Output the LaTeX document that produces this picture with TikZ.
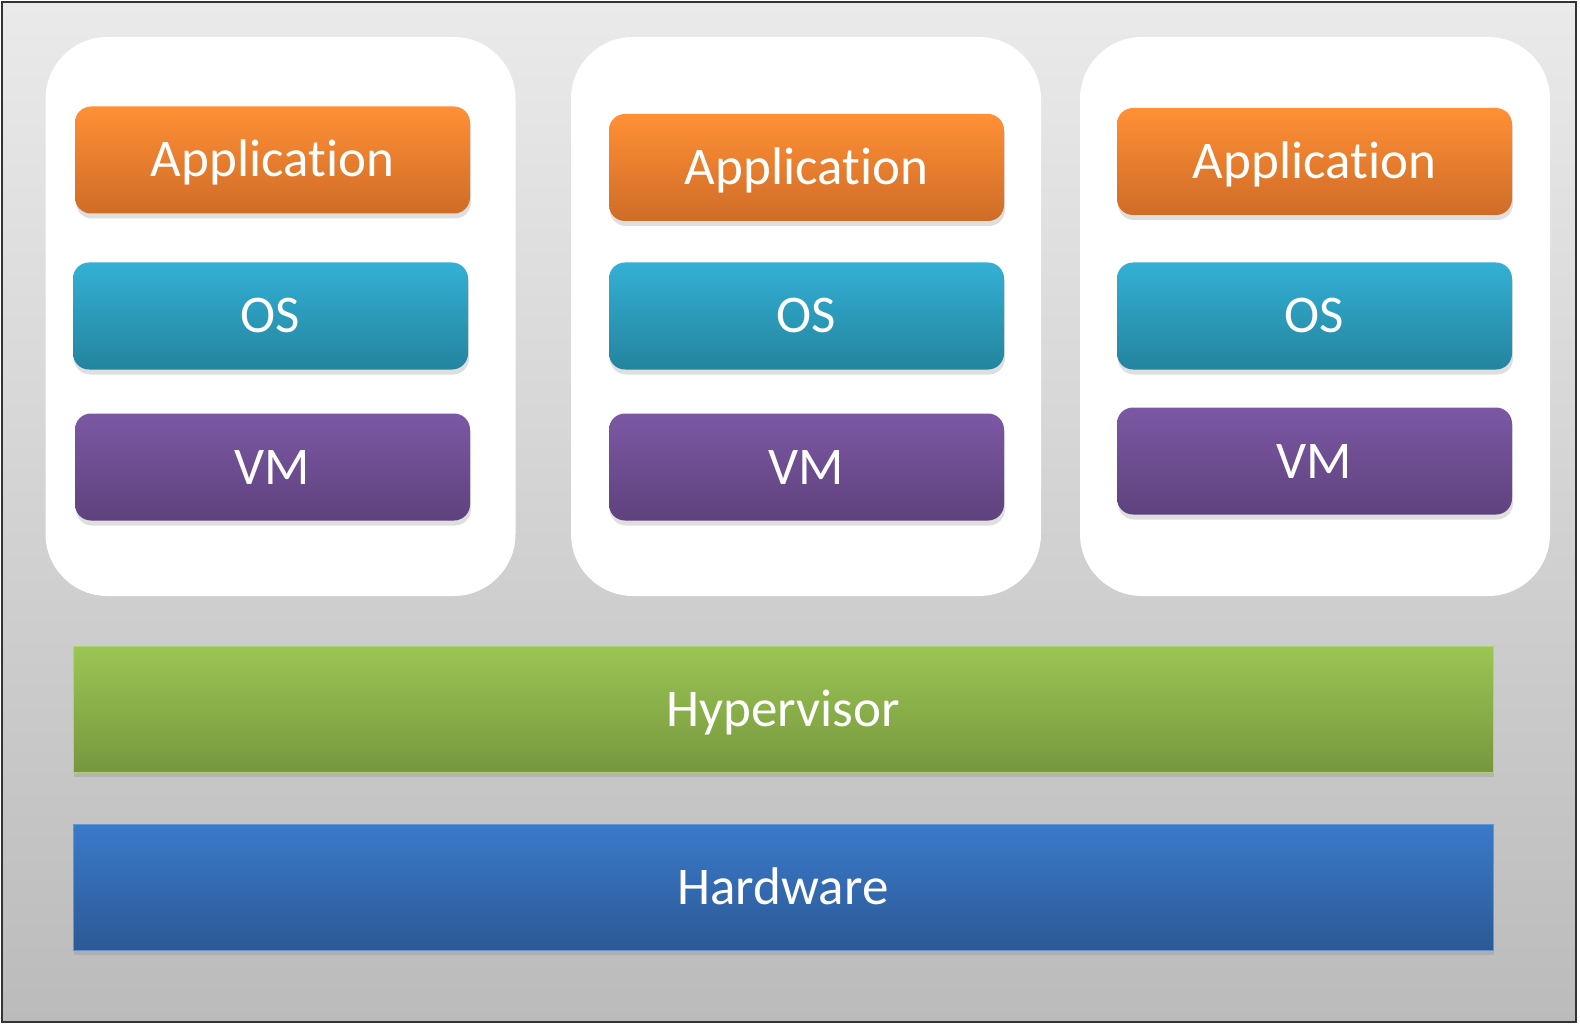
\documentclass[tikz,border=0pt]{standalone}
\usepackage{fontspec}
\setmainfont[Ligatures=NoCommon]{Carlito}
\usepackage{tikz}
\usetikzlibrary{positioning, shadows}

\definecolor{bgtop}{HTML}{EAEAEA}
\definecolor{bgbot}{HTML}{BBBBBB}
\definecolor{apptop}{HTML}{FF9035}
\definecolor{appbot}{HTML}{CF6C27}
\definecolor{ostop}{HTML}{33B0D5}
\definecolor{osbot}{HTML}{24849E}
\definecolor{vmtop}{HTML}{7C58A4}
\definecolor{vmbot}{HTML}{5E427D}
\definecolor{hvtop}{HTML}{9BC653}
\definecolor{hvbot}{HTML}{76973E}
\definecolor{hwtop}{HTML}{3A7ACB}
\definecolor{hwbot}{HTML}{2C5995}

\begin{document}
\begin{tikzpicture}[x=1pt, y=-1pt,
		panel/.style={fill=white, rounded corners=62pt, minimum width=470pt, minimum height=559pt, inner sep=0pt},
		layer/.style={text=white, font=\fontsize{53}{58}\selectfont, inner sep=0pt,
			text height=34pt, text depth=0pt,
			minimum width=395pt, minimum height=107pt, rounded corners=16pt,
			drop shadow={shadow xshift=1pt, shadow yshift=-5pt, opacity=0.25}},
		appbox/.style={layer, top color=apptop, bottom color=appbot},
		osbox/.style={layer, top color=ostop, bottom color=osbot},
		vmbox/.style={layer, top color=vmtop, bottom color=vmbot},
		bar/.style={layer, rounded corners=0pt, minimum width=1420pt, minimum height=126pt},
		hvbox/.style={bar, draw=hvtop!80!white, line width=1pt, top color=hvtop, bottom color=hvbot},
		hwbox/.style={bar, draw=hwtop!80!white, line width=1pt, top color=hwtop, bottom color=hwbot}]
	\useasboundingbox (0,0) rectangle (1580,1024);
	\draw[draw=black!80, line width=2pt, top color=bgtop, bottom color=bgbot] (2,2) rectangle (1576,1022);
	
	% the three guests
	\node[panel] (guest1) at (280.5,316.5) {};
	\node[panel] (guest2) at (806,316.5) {};
	\node[panel] (guest3) at (1315,316.5) {};
	
	\node[appbox] (app1) at (272.5,160) {Application};
	\node[osbox] (os1) at (270.5,316) {OS};
	\node[vmbox] (vm1) at (272.5,467) {VM};
	
	\node[appbox] (app2) at (806.5,167.5) {Application};
	\node[osbox] (os2) at (806.5,316) {OS};
	\node[vmbox] (vm2) at (806.5,467) {VM};
	
	\node[appbox] (app3) at (1314.5,161.5) {Application};
	\node[osbox] (os3) at (1314.5,316) {OS};
	\node[vmbox] (vm3) at (1314.5,461) {VM};
	
	% host layers
	\node[hvbox] (hyper) at (783,709) {Hypervisor};
	\node[hwbox] (hard) at (783,887) {Hardware};
\end{tikzpicture}
\end{document}
